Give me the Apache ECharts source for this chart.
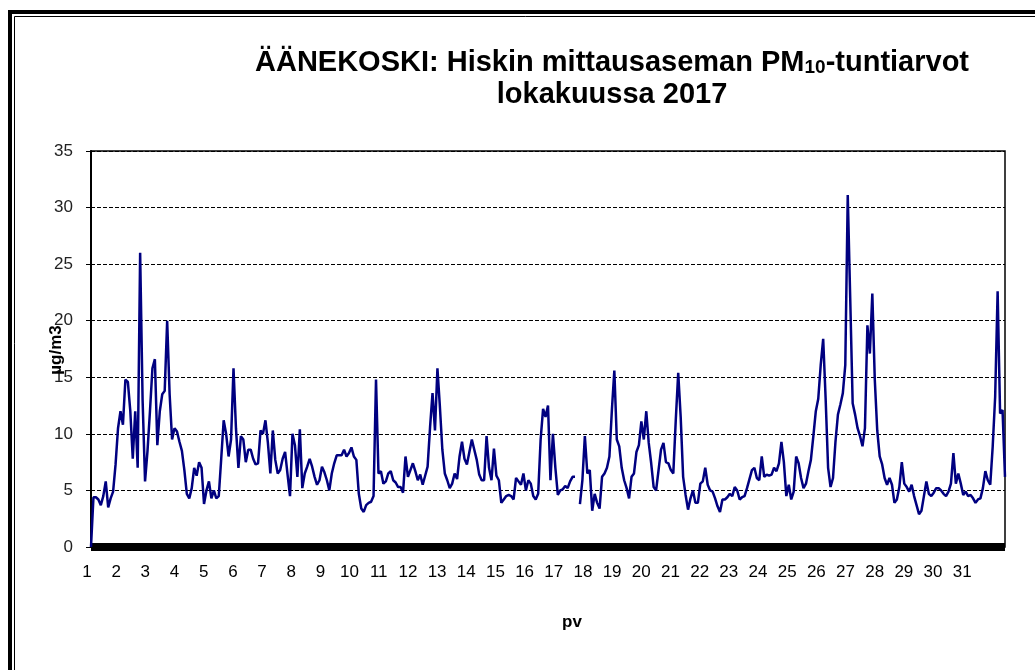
<!DOCTYPE html>
<html>
<head>
<meta charset="utf-8">
<script src="https://cdn.jsdelivr.net/npm/echarts/dist/echarts.min.js"></script>
<style>
  html, body { margin: 0; padding: 0; background: #fff; }
  #chart { width: 1035px; height: 670px; }
</style>
</head>
<body>
<div id="chart"></div>
<script>
// PM10 hourly values, read every 2nd hour, Oct 2017 (hour 0 .. 744)
var stepHours = 2;
var pm10 = [
  0, 4.4, 4.4, 4.2, 3.7, 4.5, 5.8, 3.5, 4.3, 4.9, 7.3, 10.5,
  12.0, 10.8, 14.8, 14.6, 12.0, 7.8, 12.0, 7.0, 26.0, 13.0, 5.8, 8.5,
  12.0, 15.8, 16.6, 9.0, 12.0, 13.5, 13.8, 20.0, 13.5, 9.5, 10.5, 10.2,
  9.3, 8.5, 6.8, 4.7, 4.3, 5.2, 7.0, 6.3, 7.5, 7.0, 3.8, 5.0,
  5.8, 4.3, 5.0, 4.3, 4.5, 7.8, 11.2, 10.0, 8.0, 9.5, 15.8, 10.5,
  7.0, 9.8, 9.5, 7.5, 8.6, 8.6, 7.8, 7.3, 7.4, 10.3, 10.0, 11.2,
  9.2, 6.5, 10.3, 7.7, 6.5, 6.8, 7.8, 8.4, 6.4, 4.5, 10.0, 9.0,
  6.2, 10.4, 5.2, 6.5, 7.1, 7.8, 7.1, 6.2, 5.5, 5.9, 7.1, 6.6,
  5.9, 5.0, 6.5, 7.4, 8.1, 8.1, 8.1, 8.6, 8.0, 8.3, 8.8, 8.0,
  7.7, 4.7, 3.4, 3.1, 3.7, 3.9, 4.0, 4.5, 14.8, 6.5, 6.7, 5.6,
  5.8, 6.5, 6.7, 5.9, 5.7, 5.3, 5.3, 4.8, 8.0, 6.2, 6.8, 7.4,
  6.7, 5.9, 6.4, 5.5, 6.3, 7.1, 10.6, 13.6, 10.3, 15.8, 12.4, 8.6,
  6.5, 5.9, 5.2, 5.6, 6.5, 6.0, 8.0, 9.3, 7.8, 7.3, 8.4, 9.5,
  8.6, 7.7, 6.4, 5.9, 5.9, 9.8, 7.0, 5.9, 8.7, 6.3, 5.9, 3.9,
  4.2, 4.5, 4.6, 4.5, 4.2, 6.1, 5.8, 5.5, 6.5, 5.0, 5.9, 5.6,
  4.5, 4.2, 4.7, 9.5, 12.2, 11.5, 12.5, 5.9, 10.0, 7.0, 4.6, 5.0,
  5.1, 5.4, 5.2, 5.8, 6.2, 6.2, null, 3.8, 5.9, 9.8, 6.5, 6.8,
  3.2, 4.7, 3.9, 3.4, 6.2, 6.5, 7.0, 8.0, 12.1, 15.6, 9.5, 8.9,
  7.0, 5.9, 5.2, 4.3, 6.2, 6.5, 8.4, 9.0, 11.1, 9.5, 12.0, 9.2,
  7.4, 5.3, 5.0, 6.8, 8.6, 9.2, 7.5, 7.4, 6.8, 6.5, 11.2, 15.4,
  11.5, 6.2, 4.6, 3.3, 4.3, 5.0, 3.9, 3.9, 5.6, 5.8, 7.0, 5.5,
  5.0, 4.9, 4.3, 3.6, 3.1, 4.2, 4.2, 4.4, 4.7, 4.5, 5.3, 5.0,
  4.2, 4.4, 4.5, 5.2, 6.0, 6.8, 7.0, 6.1, 5.9, 8.0, 6.2, 6.4,
  6.3, 6.4, 7.0, 6.7, 7.4, 9.3, 7.5, 4.5, 5.5, 4.2, 4.9, 8.0,
  7.4, 6.1, 5.2, 5.6, 6.7, 7.7, 9.8, 12.0, 13.1, 16.1, 18.4, 13.1,
  7.0, 5.3, 6.1, 9.3, 11.7, 12.6, 13.6, 16.1, 31.1, 22.0, 12.7, 11.7,
  10.5, 9.8, 8.9, 10.5, 19.6, 17.1, 22.4, 14.8, 10.3, 8.0, 7.3, 6.1,
  5.5, 6.1, 5.5, 3.9, 4.2, 5.3, 7.5, 5.6, 5.3, 4.9, 5.5, 4.5,
  3.7, 2.9, 3.2, 4.5, 5.8, 4.7, 4.5, 4.8, 5.2, 5.2, 5.0, 4.7,
  4.5, 4.9, 5.6, 8.3, 5.6, 6.5, 5.6, 4.6, 4.9, 4.5, 4.6, 4.3,
  3.9, 4.2, 4.3, 5.2, 6.7, 5.9, 5.5, 8.9, 13.3, 22.6, 11.8, 12.1,
  6.2
];
var days = [1, 2, 3, 4, 5, 6, 7, 8, 9, 10, 11, 12, 13, 14, 15, 16,
            17, 18, 19, 20, 21, 22, 23, 24, 25, 26, 27, 28, 29, 30, 31];
var yTicks = [0, 5, 10, 15, 20, 25, 30, 35];

var chart = echarts.init(document.getElementById('chart'));
var font = '"Liberation Sans", Arial, sans-serif';

var option = {
    backgroundColor: '#fff',
    animation: false,
    textStyle: { fontFamily: font },
    grid: {
        left: 91, top: 151, right: 30, bottom: 123,
        show: true, borderColor: '#000', borderWidth: 1.5,
        backgroundColor: 'transparent'
    },
    graphic: [
        { type: 'rect', shape: { x: 10, y: 12, width: 1100, height: 1000 },
          style: { fill: 'none', stroke: '#000', lineWidth: 4 } },
        { type: 'rect', shape: { x: 14.5, y: 16.5, width: 1100, height: 1000 },
          style: { fill: 'none', stroke: '#000', lineWidth: 1 } },
        { type: 'text', x: 612, y: 63,
          style: {
              text: 'ÄÄNEKOSKI: Hiskin mittausaseman PM{s|10}-tuntiarvot',
              font: 'bold 29px ' + font, fill: '#000',
              textAlign: 'center', textVerticalAlign: 'middle',
              rich: { s: { fontSize: 19, fontWeight: 'bold', fontFamily: font, verticalAlign: 'bottom' } }
          } },
        { type: 'text', x: 612, y: 95,
          style: { text: 'lokakuussa 2017', font: 'bold 29px ' + font, fill: '#000',
                   textAlign: 'center', textVerticalAlign: 'middle' } },
        { type: 'text', x: 572, y: 622,
          style: { text: 'pv', font: 'bold 17px ' + font, fill: '#000',
                   textAlign: 'center', textVerticalAlign: 'middle' } },
        { type: 'text', x: 56, y: 350, rotation: Math.PI / 2, z: 10,
          style: { text: 'µg/m3', font: 'bold 17px ' + font, fill: '#000',
                   textAlign: 'center', textVerticalAlign: 'middle' } }
    ],
    xAxis: [
        {
            type: 'value', min: 0, max: 744, offset: 2,
            axisLine: { show: true, lineStyle: { color: '#000', width: 8, cap: 'butt' } },
            axisTick: { show: false }, axisLabel: { show: false },
            splitLine: { show: false }
        },
        {
            type: 'value', position: 'bottom', min: 1, max: 32.33, interval: 1,
            axisLine: { show: false }, axisTick: { show: false },
            splitLine: { show: false },
            axisLabel: {
                fontSize: 17, color: '#000', margin: 17, padding: [0, 8, 0, 0],
                showMaxLabel: false,
                formatter: function (v) { return days.indexOf(v) >= 0 ? String(v) : ''; }
            }
        }
    ],
    yAxis: {
        type: 'value', min: 0, max: 35, interval: 5,
        axisLine: { show: true, lineStyle: { color: '#000', width: 2 } },
        axisTick: { show: true, length: 5, lineStyle: { color: '#000' } },
        axisLabel: {
            fontSize: 17, color: '#222', margin: 18,
            formatter: function (v) { return yTicks.indexOf(v) >= 0 ? String(v) : ''; }
        },
        splitLine: { show: true, lineStyle: { color: '#000', width: 1, type: [4, 2] } }
    },
    series: [
        {
            name: 'PM10',
            type: 'line',
            xAxisIndex: 0,
            showSymbol: false,
            connectNulls: false,
            lineStyle: { color: '#000080', width: 2.5 },
            data: pm10.map(function (v, i) { return [i * stepHours, v]; })
        }
    ]
};
chart.setOption(option);
</script>
</body>
</html>
